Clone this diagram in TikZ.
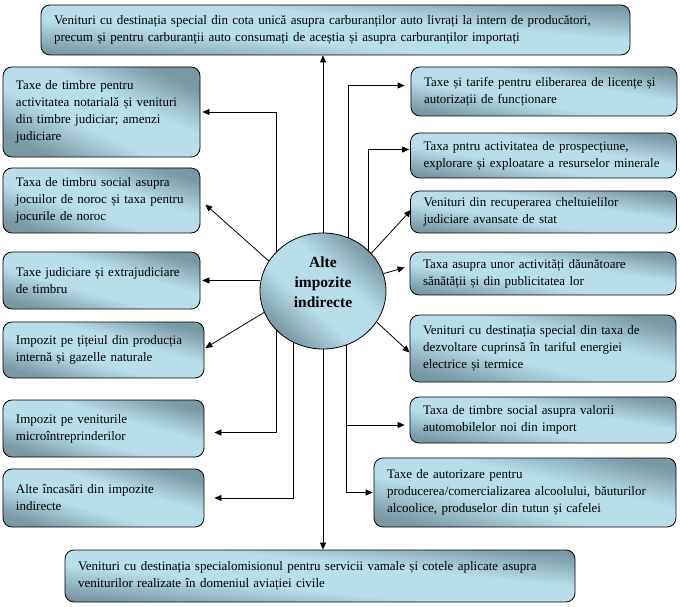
\documentclass[tikz,border=0pt]{standalone}
\usepackage{fontspec}
\setmainfont{Liberation Serif}
\usetikzlibrary{shapes.geometric,arrows.meta,positioning,calc,backgrounds}
\definecolor{boxdark}{RGB}{120,152,162}
\definecolor{boxlight}{RGB}{184,222,233}
\pgfdeclareverticalshading{taxshade}{100bp}{color(0bp)=(boxdark); color(25bp)=(boxdark); color(42bp)=(boxlight); color(58bp)=(boxlight); color(75bp)=(boxdark); color(100bp)=(boxdark)}

\begin{document}
\begin{tikzpicture}[
    x=1pt, y=1pt,
    tax/.style={rectangle, draw=black, line width=0.8pt, rounded corners=9pt, shade, shading=taxshade, align=left, inner xsep=13pt, inner ysep=0pt, font=\fontsize{13}{17}\selectfont},
    core/.style={ellipse, draw=black, line width=0.8pt, shade, shading=taxshade, shading angle=-42.6, minimum width=126pt, minimum height=116pt, inner sep=0pt, align=center, text depth=17pt, font=\fontsize{15.5}{20}\selectfont\bfseries},
    flow/.style={-{Triangle[length=7pt,width=6pt]}, line width=0.8pt, black}
]
    \useasboundingbox (0,0) rectangle (680,606);

    \node[tax, shading angle=-4.9, text width=563pt, minimum height=50pt] (top) at (335.5,576) {Venituri cu destinația special din cota unică asupra carburanților auto livrați la intern de producători,\\precum și pentru carburanții auto consumați de aceștia și asupra carburanților importați};
    \node[tax, shading angle=-5.8, text width=484pt, minimum height=52pt] (bot) at (320,30) {Venituri cu destinația specialomisionul pentru servicii vamale și cotele aplicate asupra\\veniturilor realizate în domeniul aviației civile};

    \node[tax, shading angle=-24.6, text width=171pt, minimum height=90pt] (l1) at (101.5,494) {Taxe de timbre pentru\\activitatea notarială și venituri\\din timbre judiciar; amenzi\\judiciare};
    \node[tax, shading angle=-18.3, text width=171pt, minimum height=65pt] (l2) at (101.5,405.5) {Taxa de timbru social asupra\\jocuilor de noroc și taxa pentru\\jocurile de noroc};
    \node[tax, shading angle=-16.1, text width=171pt, minimum height=57pt] (l3) at (101.5,325.5) {Taxe judiciare și extrajudiciare\\de timbru};
    \node[tax, shading angle=-15.6, text width=175pt, minimum height=56pt] (l4) at (103.5,256) {Impozit pe țițeiul din producția\\internă și gazelle naturale};
    \node[tax, shading angle=-15.8, text width=175pt, minimum height=57pt] (l5) at (103.5,177.5) {Impozit pe veniturile\\microîntreprinderilor};
    \node[tax, shading angle=-16.1, text width=175pt, minimum height=58pt] (l6) at (103.5,108) {Alte încasări din impozite\\indirecte};

    \node[tax, shading angle=-10.4, text width=240pt, minimum height=49pt] (r1) at (544,514.5) {Taxe și tarife pentru eliberarea de licențe și\\autorizații de funcționare};
    \node[tax, shading angle=-9.6, text width=240pt, minimum height=45pt] (r2) at (543.5,450.5) {Taxa pntru activitatea de prospecțiune,\\explorare și exploatare a resurselor minerale};
    \node[tax, shading angle=-9.0, text width=240pt, minimum height=42pt] (r3) at (543.5,394) {Venituri din recuperarea cheltuielilor\\judiciare avansate de stat};
    \node[tax, shading angle=-9.2, text width=240pt, minimum height=43pt] (r4) at (543,332.5) {Taxa asupra unor activități dăunătoare\\sănătății și din publicitatea lor};
    \node[tax, shading angle=-14.1, text width=240pt, minimum height=67pt] (r5) at (543,257.5) {Venituri cu destinația special din taxa de\\dezvoltare cuprinsă în tariful energiei\\electrice și termice};
    \node[tax, shading angle=-9.8, text width=240pt, minimum height=46pt] (r6) at (543,186) {Taxa de timbre social asupra valorii\\automobilelor noi din import};
    \node[tax, shading angle=-12.9, text width=276pt, minimum height=69pt] (r7) at (525,113.5) {Taxe de autorizare pentru\\producerea/comercializarea alcoolului, băuturilor\\alcoolice, produselor din tutun și cafelei};

    \node[core] (core) at (323,315) {Alte\\impozite\\indirecte};

    \begin{scope}[on background layer]
        \draw[flow] (core.north) -- (core.north |- top.south);
        \draw[flow] (core.south) -- (core.south |- bot.north);
        \draw[flow] ([xshift=-47pt]core.center) |- ([xshift=2pt]l1.east);
        \draw[flow] (core.151) -- ([xshift=5pt,yshift=-4pt]l2.east);
        \draw[flow] (core.west |- l3.east) -- ([xshift=2pt]l3.east);
        \draw[flow] (core.200) -- ([xshift=1pt,yshift=2pt]l4.east);
        \draw[flow] ([xshift=-47pt]core.center) |- ([xshift=10pt,yshift=-4pt]l5.east);
        \draw[flow] ([xshift=-30pt]core.center) |- ([xshift=10pt]l6.east);
        \draw[flow] ([xshift=25pt]core.center) |- ([xshift=-6pt,yshift=6pt]r1.west);
        \draw[flow] ([xshift=45pt]core.center) |- ([xshift=-1pt,yshift=6pt]r2.west);
        \draw[flow] (core.38) -- ([xshift=1pt,yshift=2pt]r3.west);
        \draw[flow] (core.16) -- ([xshift=-5pt,yshift=6pt]r4.west);
        \draw[flow] (core.330) -- ([yshift=-4pt]r5.west);
        \draw[flow] ([xshift=23pt]core.center) |- ([xshift=-5pt,yshift=-5pt]r6.west);
        \draw[flow] ([xshift=23pt]core.center) |- ([xshift=-1pt]r7.west);
    \end{scope}
\end{tikzpicture}
\end{document}
